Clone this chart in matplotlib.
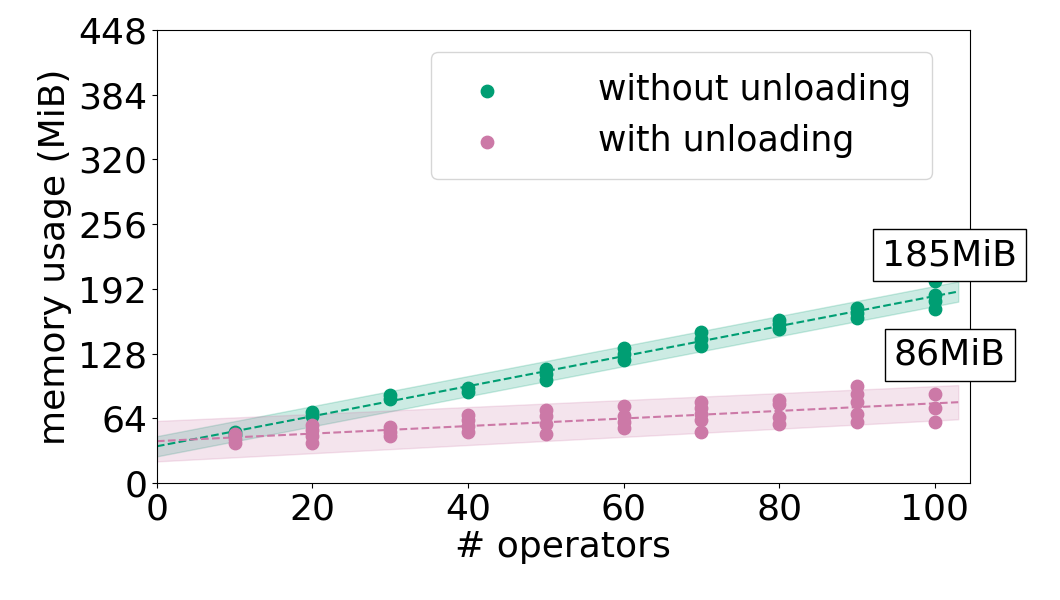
import matplotlib
matplotlib.use("Agg")
import matplotlib.pyplot as plt
import numpy as np

green_x = [10,10,20,20,30,30,40,40,50,50,50,60,60,60,70,70,70,80,80,80,90,90,90,100,100,100,100]
green_y = [47,50,66,70,83,87,90,94,102,108,113,122,128,134,135,142,149,152,157,161,163,168,173,172,180,186,200]
pink_x = [10,10,10,20,20,20,20,30,30,30,40,40,40,40,50,50,50,50,60,60,60,60,70,70,70,70,70,80,80,80,80,90,90,90,90,90,100,100,100]
pink_y = [40,44,48,40,46,52,57,46,50,55,50,56,62,67,48,58,66,72,54,60,66,76,50,62,68,74,80,58,65,78,82,60,68,80,88,96,60,74,88]
labels = ["without unloading", "with unloading"]
annots = ["185MiB", "86MiB"]
yticks = [0,64,128,192,256,320,384,448]
xticks = [0,20,40,60,80,100]

G, P = "#009E73", "#CC79A7"
fig = plt.figure(figsize=(10.6, 6), dpi=100)
ax = fig.add_axes([0.148, 0.195, 0.767, 0.755])

xs = np.linspace(0, 103, 50)
for x, y, c, lab, w0, w1 in [(green_x, green_y, G, labels[0], 10, 10), (pink_x, pink_y, P, labels[1], 20, 17)]:
    ax.scatter(x, y, s=80, color=c, label=lab, zorder=3)
    k, b = np.polyfit(x, y, 1)
    fit = k * xs + b
    ax.plot(xs, fit, '--', color=c, lw=1.5)
    w = w0 + (w1 - w0) * xs / 100
    ax.fill_between(xs, fit - w, fit + w, color=c, alpha=0.2)

box = dict(boxstyle="square,pad=0.25", fc="white", ec="black")
ax.text(0.975, 0.503, annots[0], transform=ax.transAxes, ha="center", va="center", fontsize=26, bbox=box)
ax.text(0.975, 0.283, annots[1], transform=ax.transAxes, ha="center", va="center", fontsize=26, bbox=box)

ax.set_xlim(0, 104.5)
ax.set_ylim(0, 448)
ax.set_xticks(xticks)
ax.set_yticks(yticks)
ax.tick_params(labelsize=26)
ax.set_xlabel("# operators", fontsize=26, labelpad=2)
ax.set_ylabel("memory usage (MiB)", fontsize=26, labelpad=4)
ax.legend(loc="upper right", fontsize=25, borderpad=0.6, handletextpad=2.2, labelspacing=0.5,
          bbox_to_anchor=(0.975, 0.99))
fig.savefig("out.png")
